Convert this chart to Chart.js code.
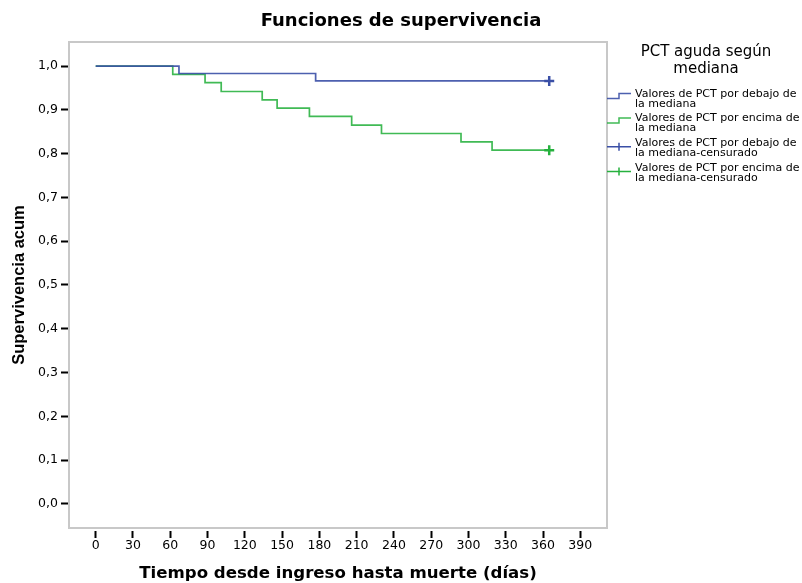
<!DOCTYPE html>
<html lang="es">
<head>
  <meta charset="UTF-8">
  <title>Funciones de supervivencia</title>
  <script src="https://cdn.jsdelivr.net/npm/chart.js"></script>
  <style>
    body {
      margin: 0;
      background: #fff;
    }

    .contenedor {
      width: 802px;
      height: 583px;
    }
  </style>
</head>
<body>
  <div class="contenedor">
    <canvas id="kmChart"></canvas>
  </div>

  <script>
    // Marcas de los ejes
    const xTicks = [0, 30, 60, 90, 120, 150, 180, 210, 240, 270, 300, 330, 360, 390];
    const yTicks = [0, 0.1, 0.2, 0.3, 0.4, 0.5, 0.6, 0.7, 0.8, 0.9, 1.0];

    // PCT por debajo de la mediana
    const bajoTiempo = [0, 67, 177, 365];
    const bajoSuperv = [1.0, 0.983, 0.966, 0.966];

    // PCT por encima de la mediana
    const encimaTiempo = [0, 62, 88, 101, 134, 146, 172, 206, 230, 294, 319, 365];
    const encimaSuperv = [1.0, 0.981, 0.962, 0.942, 0.923, 0.904, 0.885, 0.865, 0.846, 0.827, 0.808, 0.808];

    // Casos censurados
    const bajoCensTiempo = [365];
    const bajoCensSuperv = [0.966];
    const encimaCensTiempo = [365];
    const encimaCensSuperv = [0.808];

    const legendTitle = ["PCT aguda según", "mediana"];
    const seriesLabels = [
      "Valores de PCT por debajo de\nla mediana",
      "Valores de PCT por encima de\nla mediana",
      "Valores de PCT por debajo de\nla mediana-censurado",
      "Valores de PCT por encima de\nla mediana-censurado",
    ];

    const azul = "#3a4fa6";
    const verde = "#26b13e";

    const toPoints = (xs, ys) => xs.map((x, i) => ({ x: x, y: ys[i] }));

    Chart.defaults.font.family = '"DejaVu Sans", "Liberation Sans", Arial, sans-serif';
    Chart.defaults.color = "#000";

    // marco gris del área del gráfico
    const marco = {
      id: "marco",
      beforeDatasetsDraw(chart) {
        const { ctx, chartArea: a } = chart;
        ctx.save();
        ctx.strokeStyle = "#c8c8c8";
        ctx.lineWidth = 2;
        ctx.strokeRect(a.left, a.top, a.right - a.left, a.bottom - a.top);
        ctx.restore();
      },
    };

    // leyenda a la derecha, con símbolos escalonados
    const leyenda = {
      id: "leyenda",
      afterDraw(chart) {
        const ctx = chart.ctx;
        ctx.save();
        ctx.fillStyle = "#000";
        ctx.textBaseline = "middle";
        ctx.textAlign = "center";
        ctx.font = '15px "DejaVu Sans"';
        legendTitle.forEach((t, i) => ctx.fillText(t, 706, 52 + i * 17));

        ctx.textAlign = "left";
        ctx.font = '11px "DejaVu Sans"';
        chart.data.datasets.forEach((ds, i) => {
          const y = 94 + i * 24.6;
          ds.label.split("\n").forEach((line, j) => ctx.fillText(line, 635, y + j * 10));

          ctx.strokeStyle = ds.showLine === false ? ds.pointBorderColor : ds.borderColor;
          ctx.lineWidth = 1.5;
          ctx.beginPath();
          if (ds.showLine === false) {
            ctx.moveTo(607, y + 3.6);
            ctx.lineTo(631, y + 3.6);
            ctx.moveTo(619, y - 0.4);
            ctx.lineTo(619, y + 7.6);
          } else {
            ctx.moveTo(607, y + 4.5);
            ctx.lineTo(619, y + 4.5);
            ctx.lineTo(619, y - 0.5);
            ctx.lineTo(631, y - 0.5);
          }
          ctx.stroke();
        });
        ctx.restore();
      },
    };

    const ctx = document.getElementById("kmChart").getContext("2d");
    const kmChart = new Chart(ctx, {
      type: "line",
      data: {
        datasets: [
          {
            label: seriesLabels[0],
            data: toPoints(bajoTiempo, bajoSuperv),
            borderColor: "rgba(58, 79, 166, 0.9)",
            borderWidth: 1.7,
            stepped: true,
            pointRadius: 0,
            fill: false,
          },
          {
            label: seriesLabels[1],
            data: toPoints(encimaTiempo, encimaSuperv),
            borderColor: "rgba(38, 177, 62, 0.88)",
            borderWidth: 1.7,
            stepped: true,
            pointRadius: 0,
            fill: false,
          },
          {
            label: seriesLabels[2],
            data: toPoints(bajoCensTiempo, bajoCensSuperv),
            showLine: false,
            pointStyle: "cross",
            pointRadius: 5,
            pointBorderWidth: 2.5,
            pointBorderColor: azul,
            borderColor: azul,
          },
          {
            label: seriesLabels[3],
            data: toPoints(encimaCensTiempo, encimaCensSuperv),
            showLine: false,
            pointStyle: "cross",
            pointRadius: 5,
            pointBorderWidth: 2.5,
            pointBorderColor: verde,
            borderColor: verde,
          },
        ],
      },
      options: {
        responsive: true,
        maintainAspectRatio: false,
        animation: false,
        layout: { padding: 0 },
        plugins: {
          legend: { display: false },
          tooltip: { enabled: false },
          title: {
            display: true,
            text: "Funciones de supervivencia",
            font: { size: 18, weight: "bold" },
            padding: { top: 11, bottom: 9.4 },
            color: "#000",
          },
        },
        scales: {
          x: {
            type: "linear",
            min: -21.5,
            max: 411.5,
            border: { display: false },
            grid: {
              drawOnChartArea: false,
              tickLength: 10,
              tickWidth: 2,
              tickColor: "#000",
              tickBorderDash: [7, 20],
              tickBorderDashOffset: 24,
            },
            ticks: {
              font: { size: 12.5 },
              color: "#000",
              padding: 0,
              maxRotation: 0,
              autoSkip: false,
            },
            afterBuildTicks: (s) => {
              s.ticks = xTicks.map((v) => ({ value: v }));
            },
            afterFit: (s) => {
              s.height = 55;
            },
            title: {
              display: true,
              text: "Tiempo desde ingreso hasta muerte (días)",
              font: { size: 16.6, weight: "bold", lineHeight: 1.1 },
              padding: { top: 4, bottom: 0 },
              color: "#000",
            },
          },
          y: {
            min: -0.055,
            max: 1.055,
            border: { display: false },
            grid: {
              drawOnChartArea: false,
              tickLength: 8,
              tickWidth: 2,
              tickColor: "#000",
            },
            ticks: {
              font: { size: 12.5 },
              color: "#000",
              padding: 3,
              callback: (v) => v.toFixed(1).replace(".", ","),
            },
            afterBuildTicks: (s) => {
              s.ticks = yTicks.map((v) => ({ value: v }));
            },
            afterFit: (s) => {
              s.width = 69;
            },
            title: {
              display: true,
              text: "Supervivencia acum",
              font: { family: '"Liberation Sans", Arial, sans-serif', size: 16.5, weight: "bold" },
              padding: { top: 10, bottom: 0 },
              color: "#000",
            },
          },
          // espacio reservado para la leyenda
          hueco: {
            type: "linear",
            position: "right",
            display: true,
            grid: { display: false },
            border: { display: false },
            ticks: { display: false },
            afterFit: (s) => {
              s.width = 195;
            },
          },
        },
      },
      plugins: [marco, leyenda],
    });
  </script>
</body>
</html>
